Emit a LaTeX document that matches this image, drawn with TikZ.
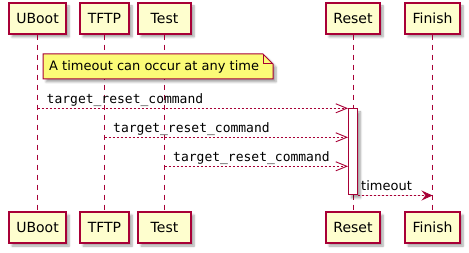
\documentclass[tikz,border=0pt]{standalone}
\usepackage{fontspec}
\setmainfont{DejaVu Sans}
\newfontfamily\monof{DejaVu Sans Mono}
\usetikzlibrary{arrows.meta,shadows.blur}
\definecolor{pborder}{HTML}{A80036}
\definecolor{pfill}{HTML}{FEFECE}
\definecolor{nfill}{HTML}{FBFB77}
\tikzset{
  shad/.style={blur shadow={shadow xshift=3pt,shadow yshift=-3pt,shadow blur steps=6,shadow blur radius=2pt,shadow opacity=35}},
  part/.style={draw=pborder,fill=pfill,line width=1.2pt,minimum height=31pt,inner sep=0pt,font=\fontsize{14}{16}\selectfont,shad},
  lifeline/.style={draw=pborder,line width=0.9pt,dash pattern=on 5pt off 5pt},
  msg/.style={draw=pborder,line width=0.9pt,dash pattern=on 2pt off 2pt},
  openhead/.style={-{Straight Barb[length=11pt,width=9pt,line width=0.9pt]}},
  fillhead/.style={-{Stealth[length=11pt,width=10pt,inset=4pt]},fill=pborder},
  mlabel/.style={anchor=base west,inner sep=0pt,font=\monof\fontsize{13}{15}\selectfont},
  slabel/.style={anchor=base west,inner sep=0pt,font=\fontsize{13}{15}\selectfont},
}
\begin{document}
\begin{tikzpicture}[x=1pt,y=-1pt]
\useasboundingbox (0,0) rectangle (469,253);
% top participants
\node[part,minimum width=57pt] (ub) at (37.5,18.5) {UBoot};
\node[part,minimum width=49pt] (tf) at (104.5,18.5) {TFTP};
\node[part,minimum width=53pt] (te) at (164.5,18.5) {Test};
\node[part,minimum width=54pt] (re) at (353,18.5) {Reset};
\node[part,minimum width=55pt] (fi) at (432.5,18.5) {Finish};
% bottom participants
\node[part,minimum width=57pt] (ubb) at (37.5,227.5) {UBoot};
\node[part,minimum width=49pt] (tfb) at (104.5,227.5) {TFTP};
\node[part,minimum width=53pt] (teb) at (164.5,227.5) {Test};
\node[part,minimum width=54pt] (reb) at (353,227.5) {Reset};
\node[part,minimum width=55pt] (fib) at (432.5,227.5) {Finish};
% lifelines
\draw[lifeline] (ub.south) -- (ubb.north);
\draw[lifeline] (tf.south) -- (tfb.north);
\draw[lifeline] (te.south) -- (teb.north);
\draw[lifeline] (re.south) -- (reb.north);
\draw[lifeline] (fi.south) -- (fib.north);
% note
\path[draw=pborder,fill=nfill,line width=1pt,shad]
  (43,54) -- (263,54) -- (273,64) -- (273,79) -- (43,79) -- cycle;
\draw[pborder,line width=1pt] (263,54) -- (263,64) -- (273,64);
\node[slabel,anchor=west] (note) at (49,66.5) {A timeout can occur at any time};
% activation
\node[draw=pborder,fill=white,line width=1pt,minimum width=9pt,minimum height=86pt,inner sep=0pt,shad] (act) at (353,152) {};
% messages
\coordinate (m1s) at (ub.center |- 0,108.3);
\coordinate (m1e) at (act.west |- 0,108.3);
\coordinate (m2s) at (tf.center |- 0,137.3);
\coordinate (m2e) at (act.west |- 0,137.3);
\coordinate (m3s) at (te.center |- 0,166.3);
\coordinate (m3e) at (act.west |- 0,166.3);
\coordinate (m4s) at (act.east |- 0,195.5);
\coordinate (m4e) at (fi.center |- 0,195.5);
\draw[msg,openhead] (m1s) -- (m1e);
\draw[msg,openhead] (m2s) -- (m2e);
\draw[msg,openhead] (m3s) -- (m3e);
\draw[msg,fillhead] (m4s) -- (m4e);
\node[mlabel] (l1) at (46.5,103.3) {target\_reset\_command};
\node[mlabel] (l2) at (113,132.3) {target\_reset\_command};
\node[mlabel] (l3) at (173,161.5) {target\_reset\_command};
\node[slabel] (l4) at (361,191) {timeout};
\end{tikzpicture}
\end{document}
